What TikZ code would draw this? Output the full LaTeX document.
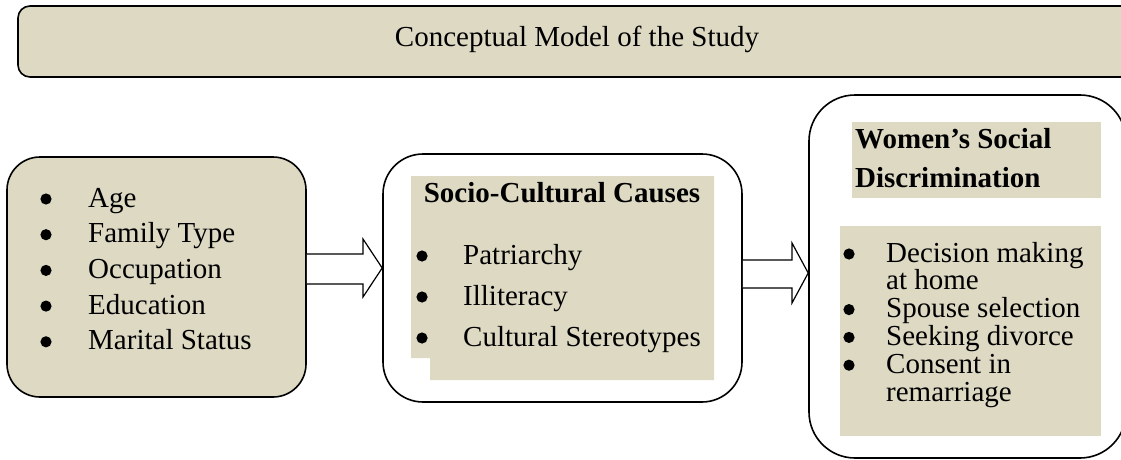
\documentclass[tikz,border=0pt]{standalone}
\usepackage{fontspec}
\setmainfont{Liberation Serif}
\usepackage{tikz}
\usepackage{xcolor}
\usetikzlibrary{calc}
\definecolor{tan-fill}{RGB}{221,217,195}
\tikzset{
    rounded-box/.style = {draw=black, line width=1.6pt, rectangle, inner sep=0pt},
    tan-box/.style = {rounded-box, fill=tan-fill},
    white-box/.style = {rounded-box, fill=white},
    block-arrow/.style = {draw=black, line width=1.2pt, fill=white, line join=miter},
    item-text/.style = {anchor=base west, inner sep=0pt, font=\fontsize{29}{34}\selectfont},
    head-text/.style = {item-text, font=\fontsize{29}{34}\selectfont\bfseries},
    item-dot/.style = {fill=black},
}

\begin{document}
\begin{tikzpicture}[x=1pt, y=-1pt]
\path[use as bounding box] (0,0) rectangle (1121,460);
\clip (0,0) rectangle (1121,460);

% banner
\node[tan-box, rounded corners=12, minimum width=1118, minimum height=71] (banner) at (577,41.5) {};
\node[item-text, anchor=base] (title) at (577,47) {Conceptual Model of the Study};

% the three boxes
\node[tan-box, rounded corners=33, minimum width=299, minimum height=240] (factors) at (156.5,277) {};
\node[white-box, rounded corners=40, minimum width=359, minimum height=248] (causes) at (562.5,278) {};
\node[white-box, rounded corners=46, minimum width=317, minimum height=363] (discrimination) at (967.5,276.5) {};

\fill[tan-fill] (411,176) -- (714,176) -- (714,380) -- (430,380) -- (430,358) -- (411,358) -- cycle;
\fill[tan-fill] (852,122) rectangle (1101,198);
\fill[tan-fill] (840,226) rectangle (1101,436);

% block arrows
\draw[block-arrow] (factors.east |- 0,254) -- (363,254) -- (363,239) -- (causes.west |- 0,268)
    -- (363,297) -- (363,284) -- (factors.east |- 0,284);
\draw[block-arrow] (causes.east |- 0,260) -- (792,260) -- (792,243) -- (discrimination.west |- 0,273)
    -- (792,303) -- (792,288) -- (causes.east |- 0,288);

% texts
\foreach \nm/\txt [count=\i from 0] in {age/Age, family/Family Type, occupation/Occupation, education/Education, marital/Marital Status}{
    \node[item-text] (\nm) at (88,{207+35.7*\i}) {\txt};
    \fill[item-dot] ($(\nm.base west)+(-42,-8)$) circle (5.6);
}

\node[head-text, anchor=base] (causes-title) at (562,202) {Socio-Cultural Causes};
\foreach \nm/\txt [count=\i from 0] in {patriarchy/Patriarchy, illiteracy/Illiteracy, stereotypes/Cultural Stereotypes}{
    \node[item-text] (\nm) at (463,{264+41*\i}) {\txt};
    \fill[item-dot] ($(\nm.base west)+(-41,-8)$) circle (5.6);
}

\node[head-text] (disc-title-1) at (855,148) {Women’s Social};
\node[head-text] (disc-title-2) at (855,187) {Discrimination};
\foreach \nm/\txt [count=\i from 0] in {decision/Decision making, home/at home, spouse/Spouse selection, divorce/Seeking divorce, consent/Consent in, remarriage/remarriage}
    \node[item-text] (\nm) at (886,{262+27.8*\i}) {\txt};
\foreach \nm in {decision, spouse, divorce, consent}
    \fill[item-dot] ($(\nm.base west)+(-37,-8)$) circle (5.6);
\end{tikzpicture}
\end{document}
